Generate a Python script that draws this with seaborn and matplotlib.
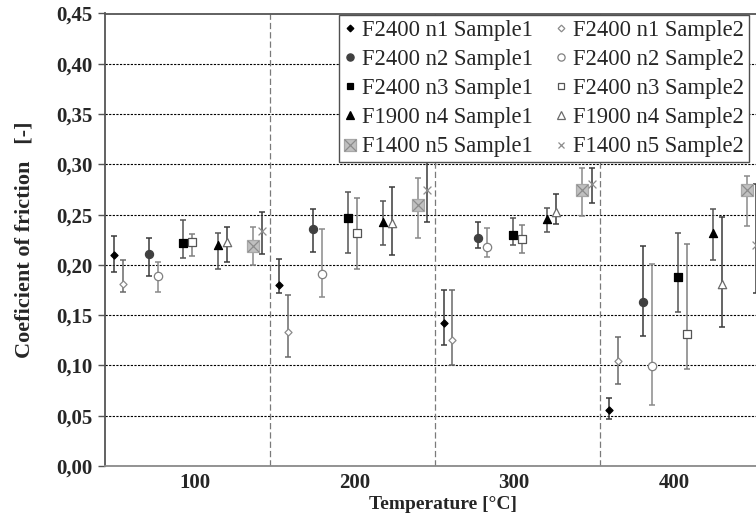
import matplotlib
matplotlib.use("Agg")
import matplotlib.pyplot as plt
import seaborn as sns
import pandas as pd
from matplotlib.lines import Line2D

# ---------------- data ----------------
series = ["F2400 n1 Sample1", "F2400 n2 Sample1", "F2400 n3 Sample1",
          "F1900 n4 Sample1", "F1400 n5 Sample1",
          "F2400 n1 Sample2", "F2400 n2 Sample2", "F2400 n3 Sample2",
          "F1900 n4 Sample2", "F1400 n5 Sample2"]

x_n1_s1 = [49.4, 152.7, 256.0, 359.3]
x_n2_s1 = [71.1, 174.2, 277.5, 380.6]
x_n3_s1 = [92.8, 196.1, 299.4, 402.4]
x_n4_s1 = [114.3, 217.8, 320.7, 424.3]
x_n5_s1 = [136.3, 239.6, 342.6, 446.0]
x_n1_s2 = [54.9, 158.2, 261.2, 364.8]
x_n2_s2 = [76.8, 179.6, 283.0, 386.2]
x_n3_s2 = [98.4, 201.6, 304.9, 408.0]
x_n4_s2 = [120.0, 223.5, 326.4, 429.9]
x_n5_s2 = [141.9, 245.1, 348.5, 451.6]

y_n1_s1 = [0.210, 0.180, 0.142, 0.056]
y_n2_s1 = [0.211, 0.236, 0.227, 0.163]
y_n3_s1 = [0.222, 0.247, 0.230, 0.188]
y_n4_s1 = [0.220, 0.243, 0.246, 0.232]
y_n5_s1 = [0.219, 0.260, 0.274, 0.274]
y_n1_s2 = [0.181, 0.133, 0.125, 0.104]
y_n2_s2 = [0.189, 0.191, 0.218, 0.099]
y_n3_s2 = [0.223, 0.232, 0.226, 0.131]
y_n4_s2 = [0.223, 0.242, 0.253, 0.181]
y_n5_s2 = [0.234, 0.274, 0.280, 0.220]

lo_n1_s1 = [0.193, 0.172, 0.120, 0.047]
lo_n2_s1 = [0.189, 0.213, 0.217, 0.129]
lo_n3_s1 = [0.207, 0.212, 0.220, 0.153]
lo_n4_s1 = [0.196, 0.220, 0.233, 0.205]
lo_n5_s1 = [0.200, 0.227, 0.249, 0.239]
lo_n1_s2 = [0.173, 0.108, 0.100, 0.082]
lo_n2_s2 = [0.173, 0.168, 0.208, 0.061]
lo_n3_s2 = [0.209, 0.196, 0.212, 0.096]
lo_n4_s2 = [0.203, 0.210, 0.241, 0.138]
lo_n5_s2 = [0.211, 0.243, 0.262, 0.172]

hi_n1_s1 = [0.229, 0.206, 0.175, 0.068]
hi_n2_s1 = [0.227, 0.256, 0.243, 0.219]
hi_n3_s1 = [0.245, 0.272, 0.247, 0.232]
hi_n4_s1 = [0.232, 0.264, 0.257, 0.256]
hi_n5_s1 = [0.238, 0.286, 0.296, 0.288]
hi_n1_s2 = [0.205, 0.170, 0.175, 0.128]
hi_n2_s2 = [0.203, 0.236, 0.237, 0.201]
hi_n3_s2 = [0.231, 0.267, 0.240, 0.221]
hi_n4_s2 = [0.238, 0.277, 0.270, 0.248]
hi_n5_s2 = [0.253, 0.302, 0.296, 0.280]

group_borders = [146.8, 250.2, 353.5]
x_ticks = [100, 200, 300, 400]
y_ticks = [0.00, 0.05, 0.10, 0.15, 0.20, 0.25, 0.30, 0.35, 0.40, 0.45]
y_tick_labels = ["0,00", "0,05", "0,10", "0,15", "0,20", "0,25", "0,30", "0,35", "0,40", "0,45"]

xs = [x_n1_s1, x_n2_s1, x_n3_s1, x_n4_s1, x_n5_s1, x_n1_s2, x_n2_s2, x_n3_s2, x_n4_s2, x_n5_s2]
ys = [y_n1_s1, y_n2_s1, y_n3_s1, y_n4_s1, y_n5_s1, y_n1_s2, y_n2_s2, y_n3_s2, y_n4_s2, y_n5_s2]
los = [lo_n1_s1, lo_n2_s1, lo_n3_s1, lo_n4_s1, lo_n5_s1, lo_n1_s2, lo_n2_s2, lo_n3_s2, lo_n4_s2, lo_n5_s2]
his = [hi_n1_s1, hi_n2_s1, hi_n3_s1, hi_n4_s1, hi_n5_s1, hi_n1_s2, hi_n2_s2, hi_n3_s2, hi_n4_s2, hi_n5_s2]

rows = []
for name, xx, yy, ll, hh in zip(series, xs, ys, los, his):
    for a, b, c, d in zip(xx, yy, ll, hh):
        rows.append(dict(series=name, temp=a, cof=b, lo=c, hi=d))
df = pd.DataFrame(rows)

# ---------------- styles ----------------
# marker, size(s), face, edge, errcolor, legend markersize
styles = {
    "F2400 n1 Sample1": ("D", 13, "#000000", "#000000", "#3a3a3a", 3.4),
    "F2400 n2 Sample1": ("o", 34, "#404040", "#404040", "#3a3a3a", 5.2),
    "F2400 n3 Sample1": ("s", 30, "#000000", "#000000", "#555555", 5.0),
    "F1900 n4 Sample1": ("^", 34, "#000000", "#000000", "#555555", 5.4),
    "F1400 n5 Sample1": ("s", 64, "#c0c0c0", "#a8a8a8", "#8a8a8a", 8.0),
    "F2400 n1 Sample2": ("D", 13, "white", "#8a8a8a", "#6a6a6a", 3.4),
    "F2400 n2 Sample2": ("o", 36, "white", "#808080", "#8a8a8a", 5.2),
    "F2400 n3 Sample2": ("s", 32, "white", "#555555", "#808080", 5.0),
    "F1900 n4 Sample2": ("^", 36, "white", "#6a6a6a", "#3a3a3a", 5.4),
    "F1400 n5 Sample2": ("x", 32, "#8c8c8c", "#8c8c8c", "#3a3a3a", 5.0),
}

sns.set_theme(style="white")
plt.rcParams["font.family"] = ["Liberation Serif", "DejaVu Serif"]
plt.rcParams["lines.scale_dashes"] = False

fig = plt.figure(figsize=(7.56, 5.17), dpi=100)
ax = fig.add_axes([105 / 756, 1 - 466 / 517, 651 / 756, 452.5 / 517])
ax.set_facecolor("white")

for name in series:
    mk, s, face, edge, ecol, _ = styles[name]
    sub = df[df.series == name]
    ax.errorbar(sub.temp, sub.cof, yerr=[sub.cof - sub.lo, sub.hi - sub.cof],
                fmt="none", ecolor=ecol, elinewidth=1.1, capsize=2.3,
                capthick=1.1, zorder=3)
    if mk == "x":
        sns.scatterplot(data=sub, x="temp", y="cof", marker="x", s=s,
                        color=face, linewidth=0.9, ax=ax, zorder=4, legend=False)
    else:
        sns.scatterplot(data=sub, x="temp", y="cof", marker=mk, s=s,
                        color=face, edgecolor=edge, linewidth=0.9, ax=ax,
                        zorder=4, legend=False)
    if name == "F1400 n5 Sample1":
        sns.scatterplot(data=sub, x="temp", y="cof", marker="x", s=s,
                        color="#8c8c8c", linewidth=0.9, ax=ax, zorder=5, legend=False)

for xb in group_borders:
    ax.axvline(xb, color="#7a7a7a", lw=0.9, ls=(0, (4.5, 2.2)), zorder=2)

ax.set_xlim(43.8, 451.4)
ax.set_ylim(0, 0.45)
ax.set_xticks(x_ticks)
ax.set_xticklabels([str(t) for t in x_ticks])
ax.set_yticks(y_ticks)
ax.set_yticklabels(y_tick_labels)
ax.yaxis.grid(True, color="#000000", lw=0.8, ls=(0, (1.6, 1.0)), zorder=1)
ax.xaxis.grid(False)
ax.set_axisbelow(True)

ax.tick_params(axis="x", length=0, pad=5, labelsize=15)
ax.tick_params(axis="y", left=True, length=5, width=1, color="#555555",
               direction="out", pad=4, labelsize=15)
for lab in ax.get_xticklabels() + ax.get_yticklabels():
    lab.set_fontweight("bold")

for side in ["left", "bottom", "top"]:
    ax.spines[side].set_visible(True)
ax.spines["right"].set_visible(False)
ax.spines["left"].set_color("#555555")
ax.spines["left"].set_linewidth(1.3)
ax.spines["bottom"].set_color("#8a8a8a")
ax.spines["bottom"].set_linewidth(1.3)
ax.spines["top"].set_color("#555555")
ax.spines["top"].set_linewidth(1.3)

ax.set_xlabel("Temperature [°C]", fontsize=14, fontweight="bold")
ax.set_ylabel("Coeficient of friction   [-]", fontsize=16, fontweight="bold")
ax.xaxis.set_label_coords((443 - 105) / 651, -0.066)
ax.yaxis.set_label_coords(-0.108, 0.5)

# legend
handles = []
for name in series:
    mk, s, face, edge, ecol, ms = styles[name]
    if mk == "x":
        h = Line2D([], [], ls="none", marker="x", ms=ms, mec=face, mew=0.9)
    else:
        h = Line2D([], [], ls="none", marker=mk, ms=ms, mfc=face, mec=edge, mew=0.9)
    if name == "F1400 n5 Sample1":
        h = (h, Line2D([], [], ls="none", marker="x", ms=ms, mec="#8c8c8c", mew=0.9))
    handles.append(h)

leg = ax.legend(handles, series, ncol=2, loc="upper right",
                bbox_to_anchor=(0.989, 0.997), borderaxespad=0,
                fontsize=16.3, frameon=True, fancybox=False,
                handlelength=0.55, handletextpad=0.25, columnspacing=0.95,
                labelspacing=0.36, borderpad=0.22)
leg.get_frame().set_edgecolor("#505050")
leg.get_frame().set_linewidth(1.0)
leg.get_frame().set_facecolor("white")
leg.get_frame().set_alpha(1)
leg.set_zorder(10)

fig.savefig("out.png", dpi=100)
